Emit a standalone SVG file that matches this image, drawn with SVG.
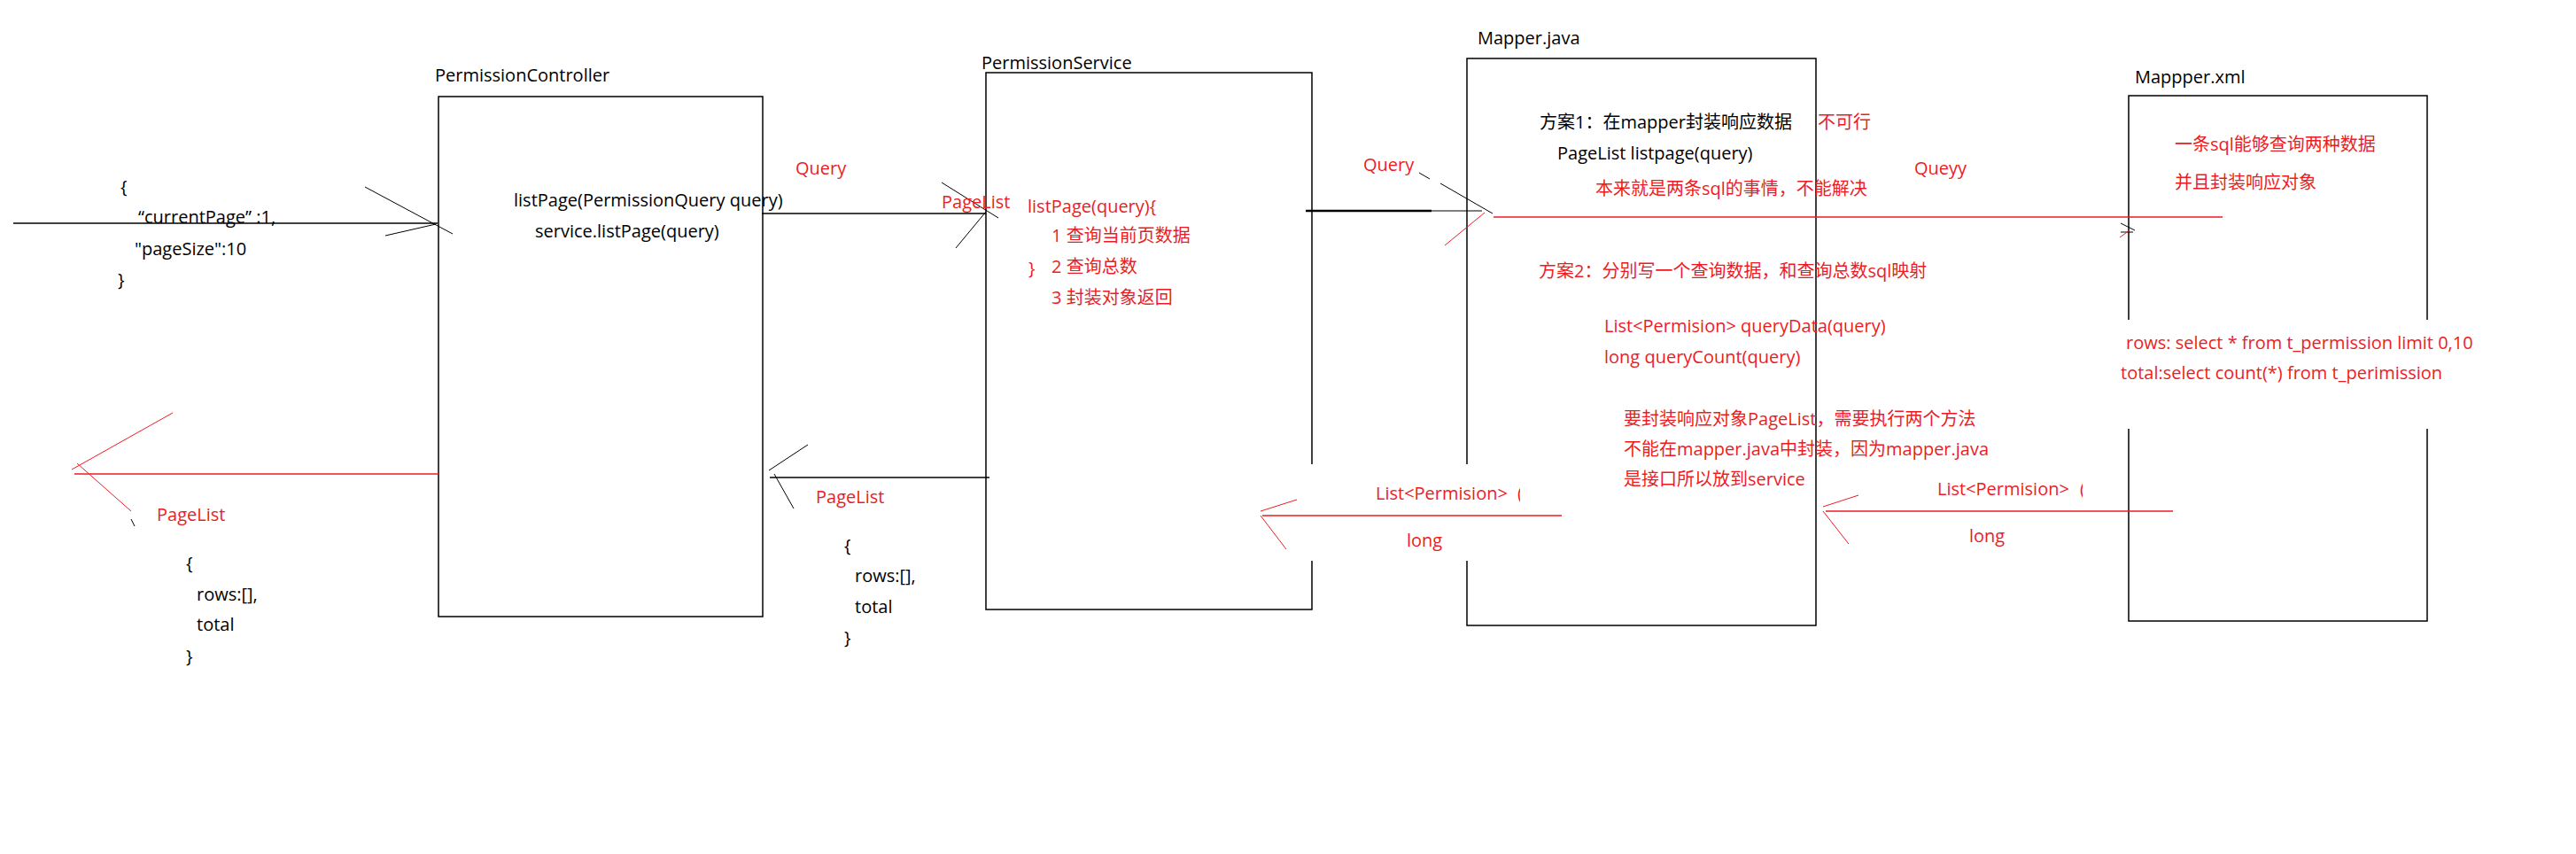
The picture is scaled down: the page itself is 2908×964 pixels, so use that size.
<svg xmlns="http://www.w3.org/2000/svg" width="2908" height="964" viewBox="0 0 2908 964">
<style>
text{font-family:"Open Sans","Noto Sans CJK SC",sans-serif;font-size:20px}
.k{fill:#000}
.r{fill:#ed1c24}
.box{fill:none;stroke:#000;stroke-width:1.5}
.mask{fill:#fff;stroke:none}
.lk{stroke:#000;stroke-width:1.5;fill:none}
.lr{stroke:#ed1c24;stroke-width:1.5;fill:none}
.hk{stroke:#000;stroke-width:1;fill:none}
.hr{stroke:#ed1c24;stroke-width:1;fill:none}
</style>
<defs>
<clipPath id="clipL"><rect x="1400" y="520" width="316" height="120"/></clipPath>
<clipPath id="clipR"><rect x="2100" y="520" width="251" height="120"/></clipPath>
</defs>
<rect width="2908" height="964" fill="#fff"/>

<g id="request-json">
<text class="k" x="136" y="218">{</text>
<text class="k" x="156" y="252">“currentPage”  :1,</text>
<text class="k" x="152" y="288">"pageSize":10</text>
<text class="k" x="133" y="323">}</text>
</g>

<g id="response-json">
<text class="r" x="177" y="588">PageList</text>
<text class="k" x="210" y="643">{</text>
<text class="k" x="222" y="678">rows:[],</text>
<text class="k" x="222" y="712">total</text>
<text class="k" x="210" y="748">}</text>
</g>

<g id="controller">
<text class="k" x="491" y="92">PermissionController</text>
<rect class="box" x="495" y="109" width="366" height="587"/>
<text class="k" x="580" y="233">listPage(PermissionQuery query)</text>
<text class="k" x="604" y="268">service.listPage(query)</text>
</g>

<g id="service">
<text class="k" x="1108" y="78">PermissionService</text>
<rect class="box" x="1113" y="82" width="368" height="606"/>
<text class="r" x="1160" y="240">listPage(query){</text>
<text class="r" x="1187" y="273">1 查询当前页数据</text>
<text class="r" x="1161" y="310">}</text>
<text class="r" x="1187" y="308">2 查询总数</text>
<text class="r" x="1187" y="343">3 封装对象返回</text>
</g>

<g id="service-json">
<text class="k" x="953" y="623">{</text>
<text class="k" x="965" y="657">rows:[],</text>
<text class="k" x="965" y="692">total</text>
<text class="k" x="953" y="727">}</text>
</g>

<g id="mapper-java">
<text class="k" x="1668" y="50">Mapper.java</text>
<rect class="box" x="1656" y="66" width="394" height="640"/>
<text class="k" x="1738" y="145">方案1：在mapper封装响应数据</text>
<text class="r" x="2052" y="145">不可行</text>
<text class="k" x="1758" y="180">PageList listpage(query)</text>
<text class="r" x="1801" y="220">本来就是两条sql的事情，不能解决</text>
<text class="r" x="1737" y="313">方案2：分别写一个查询数据，和查询总数sql映射</text>
<text class="r" x="1811" y="375">List&lt;Permision&gt; queryData(query)</text>
<text class="r" x="1811" y="410">long queryCount(query)</text>
<text class="r" x="1833" y="480">要封装响应对象PageList，需要执行两个方法</text>
<text class="r" x="1833" y="514">不能在mapper.java中封装，因为mapper.java</text>
<text class="r" x="1833" y="548">是接口所以放到service</text>
</g>

<g id="mapper-xml">
<text class="k" x="2410" y="94">Mappper.xml</text>
<rect class="box" x="2403" y="108" width="337" height="593"/>
<text class="r" x="2455" y="170">一条sql能够查询两种数据</text>
<text class="r" x="2455" y="213">并且封装响应对象</text>
<rect class="mask" x="2390" y="361" width="370" height="123"/>
<text class="r" x="2400" y="394">rows: select * from t_permission limit 0,10</text>
<text class="r" x="2394" y="428">total:select count(*) from t_perimission</text>
</g>

<g id="connectors">
<!-- request into controller -->
<line class="lk" x1="15" y1="252" x2="494" y2="252"/>
<line class="hk" x1="412" y1="211" x2="511" y2="264"/>
<line class="hk" x1="435" y1="266" x2="492" y2="253"/>
<!-- controller response to client -->
<line class="lr" x1="84" y1="535" x2="495" y2="535"/>
<line class="hr" x1="81" y1="530" x2="195" y2="466"/>
<line class="hr" x1="87" y1="523" x2="148" y2="577"/>
<line class="hk" x1="148" y1="586" x2="152" y2="594"/>
<!-- controller to service -->
<line class="lk" x1="860" y1="241" x2="1113" y2="241"/>
<line class="hk" x1="1063" y1="206" x2="1127" y2="246"/>
<line class="hk" x1="1079" y1="280" x2="1113" y2="239"/>
<text class="r" x="898" y="197">Query</text>
<text class="r" x="1063" y="235">PageList</text>
<!-- service back to controller -->
<line class="lk" x1="869" y1="539" x2="1117" y2="539"/>
<line class="hk" x1="868" y1="531" x2="912" y2="502"/>
<line class="hk" x1="874" y1="535" x2="896" y2="574"/>
<text class="r" x="921" y="568">PageList</text>
<!-- service to mapper.java -->
<line stroke="#000" stroke-width="2.5" x1="1474" y1="238" x2="1616" y2="238"/>
<line class="hk" x1="1616" y1="238" x2="1673" y2="238"/>
<line class="hk" x1="1602" y1="195" x2="1614" y2="202"/>
<line class="hk" x1="1626" y1="207" x2="1685" y2="241"/>
<line class="hr" x1="1631" y1="277" x2="1676" y2="240"/>
<text class="r" x="1539" y="193">Query</text>
<!-- mapper.java to mapper.xml -->
<line class="lr" x1="1686" y1="245" x2="2509" y2="245"/>
<line class="hk" x1="2394" y1="252" x2="2410" y2="260"/>
<line class="hk" x1="2394" y1="262" x2="2408" y2="262"/>
<line class="hr" x1="2393" y1="268" x2="2404" y2="260"/>
<text class="r" x="2161" y="197">Queyy</text>
<!-- mapper.java back to service -->
<rect class="mask" x="1474" y="524" width="244" height="109"/>
<line class="lr" x1="1425" y1="582" x2="1763" y2="582"/>
<line class="hr" x1="1423" y1="577" x2="1464" y2="564"/>
<line class="hr" x1="1423" y1="582" x2="1452" y2="620"/>
<text class="r" x="1553" y="564" clip-path="url(#clipL)">List&lt;Permision&gt; <tspan x="1713">(</tspan></text>
<text class="r" x="1588" y="617">long</text>
<!-- mapper.xml back to mapper.java -->
<line class="lr" x1="2061" y1="577" x2="2453" y2="577"/>
<line class="hr" x1="2058" y1="572" x2="2098" y2="559"/>
<line class="hr" x1="2058" y1="577" x2="2087" y2="614"/>
<text class="r" x="2187" y="559" clip-path="url(#clipR)">List&lt;Permision&gt; <tspan x="2348">(</tspan></text>
<text class="r" x="2223" y="612">long</text>
</g>
</svg>
